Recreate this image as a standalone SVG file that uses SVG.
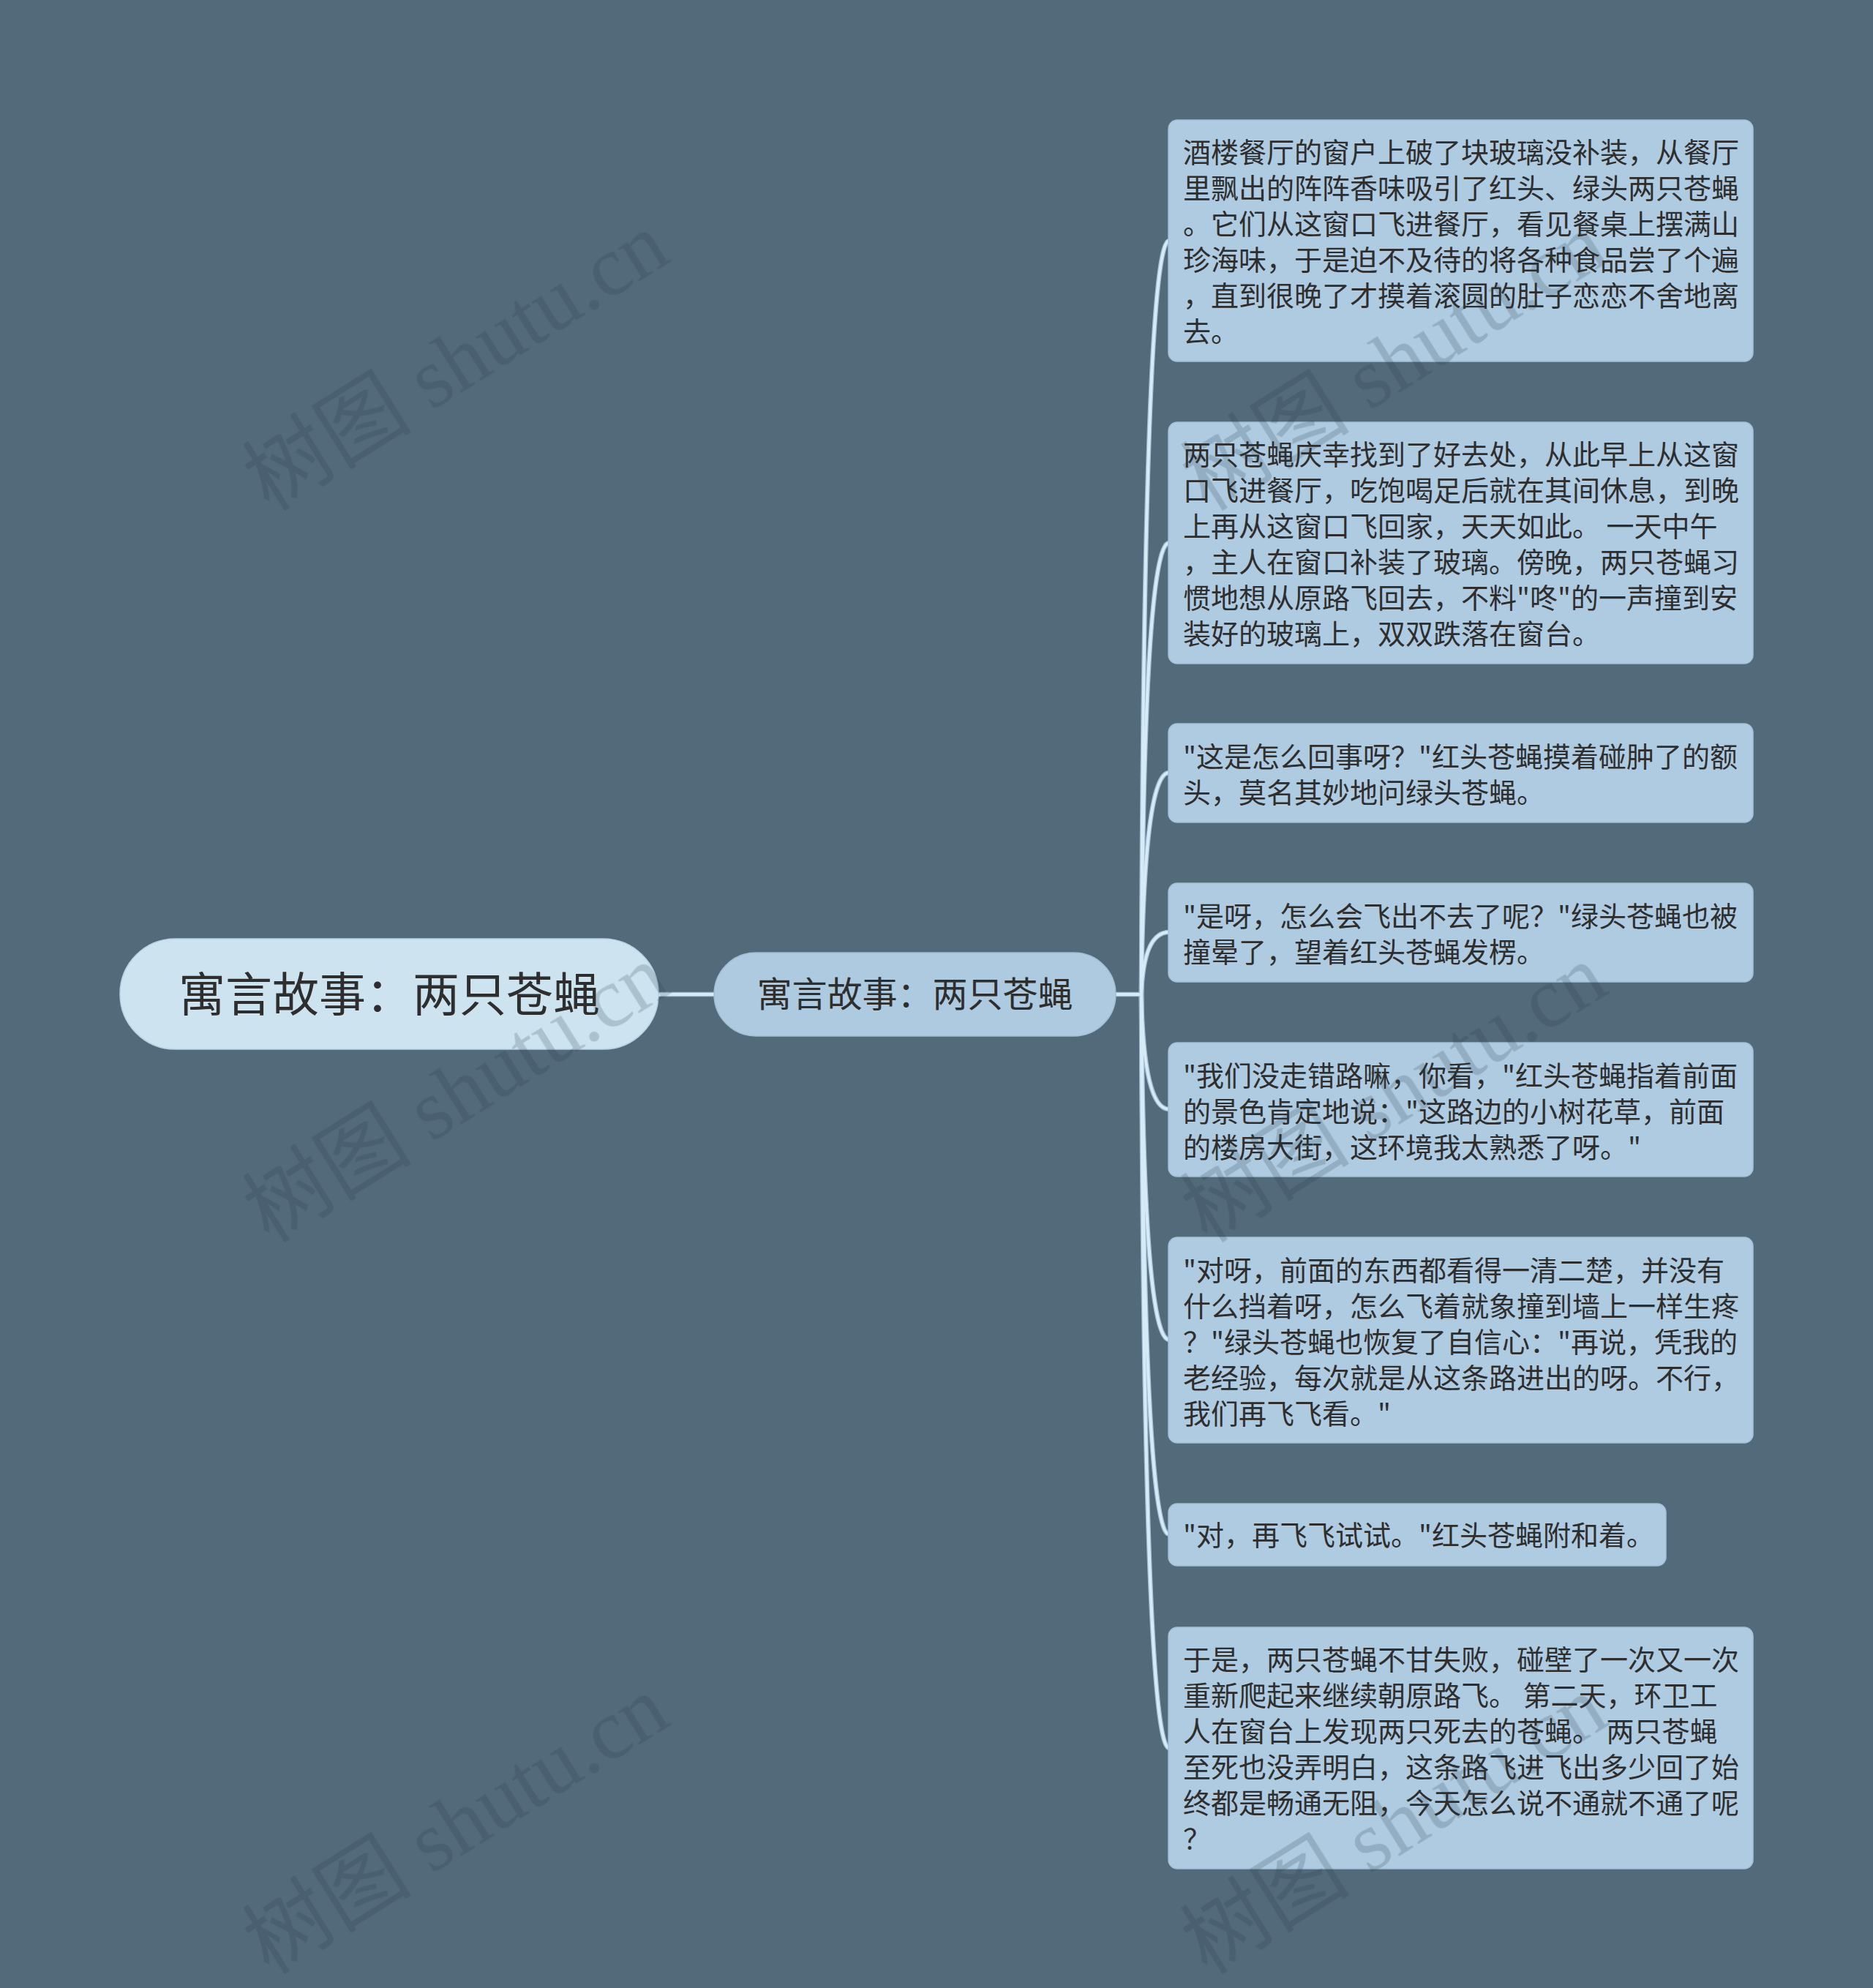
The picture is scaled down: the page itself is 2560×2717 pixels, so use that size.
<svg xmlns="http://www.w3.org/2000/svg" width="2560" height="2717" viewBox="0 0 2560 2717">
<style>
.t{font-family:"Noto Sans CJK SC","Noto Sans",sans-serif;fill:#2e2e2e}
.leaf rect{fill:#aecbe1;stroke:#a2c0d6;stroke-width:1.5}
.leaf text{font-size:38px}
.c-under{fill:none;stroke:#9fbcd1;stroke-width:6.5}
.c-top{fill:none;stroke:#d6ebf6;stroke-width:4}
.wm{font-family:"Liberation Serif","Noto Sans CJK SC",serif;font-size:116px;fill:#2b3a46;opacity:0.2}
</style>
<rect width="2560" height="2717" fill="#536a7a"/>

<g id="connectors">
  <g class="c-under">
    <path d="M900 1359 L976 1359"/>
    <path d="M1525 1359 L1560 1359"/>
    <path d="M1560 1359 Q1563 329 1598 329"/>
    <path d="M1560 1359 Q1563 742 1598 742"/>
    <path d="M1560 1359 Q1563 1056 1598 1056"/>
    <path d="M1560 1359 Q1563 1274 1598 1274"/>
    <path d="M1560 1359 Q1563 1516 1598 1516"/>
    <path d="M1560 1359 Q1563 1831 1598 1831"/>
    <path d="M1560 1359 Q1563 2097 1598 2097"/>
    <path d="M1560 1359 Q1563 2389 1598 2389"/>
  </g>
  <g class="c-top">
    <path d="M900 1359 L976 1359"/>
    <path d="M1525 1359 L1560 1359"/>
    <path d="M1560 1359 Q1563 329 1598 329"/>
    <path d="M1560 1359 Q1563 742 1598 742"/>
    <path d="M1560 1359 Q1563 1056 1598 1056"/>
    <path d="M1560 1359 Q1563 1274 1598 1274"/>
    <path d="M1560 1359 Q1563 1516 1598 1516"/>
    <path d="M1560 1359 Q1563 1831 1598 1831"/>
    <path d="M1560 1359 Q1563 2097 1598 2097"/>
    <path d="M1560 1359 Q1563 2389 1598 2389"/>
  </g>
</g>

<g id="root">
  <rect x="164" y="1283" width="736" height="151" rx="75.5" fill="#cde4f0" stroke="#b8d3e3" stroke-width="1.5"/>
  <text class="t" x="532" y="1382" font-size="64" text-anchor="middle">寓言故事：两只苍蝇</text>
</g>

<g id="main">
  <rect x="976" y="1302" width="549" height="114" rx="57" fill="#adcae0" stroke="#a0bed4" stroke-width="1.5"/>
  <text class="t" x="1250.5" y="1376" font-size="48" text-anchor="middle">寓言故事：两只苍蝇</text>
</g>

<g id="leaf1" class="leaf">
  <rect x="1597" y="164" width="799" height="330" rx="12"/>
  <text class="t">
    <tspan x="1617" y="222">酒楼餐厅的窗户上破了块玻璃没补装，从餐厅</tspan>
    <tspan x="1617" y="271">里飘出的阵阵香味吸引了红头、绿头两只苍蝇</tspan>
    <tspan x="1617" y="320">。它们从这窗口飞进餐厅，看见餐桌上摆满山</tspan>
    <tspan x="1617" y="369">珍海味，于是迫不及待的将各种食品尝了个遍</tspan>
    <tspan x="1617" y="418">，直到很晚了才摸着滚圆的肚子恋恋不舍地离</tspan>
    <tspan x="1617" y="467">去。</tspan>
  </text>
</g>

<g id="leaf2" class="leaf">
  <rect x="1597" y="577" width="799" height="330" rx="12"/>
  <text class="t">
    <tspan x="1617" y="635">两只苍蝇庆幸找到了好去处，从此早上从这窗</tspan>
    <tspan x="1617" y="684">口飞进餐厅，吃饱喝足后就在其间休息，到晚</tspan>
    <tspan x="1617" y="733">上再从这窗口飞回家，天天如此。 一天中午</tspan>
    <tspan x="1617" y="782">，主人在窗口补装了玻璃。傍晚，两只苍蝇习</tspan>
    <tspan x="1617" y="831">惯地想从原路飞回去，不料"咚"的一声撞到安</tspan>
    <tspan x="1617" y="880">装好的玻璃上，双双跌落在窗台。</tspan>
  </text>
</g>

<g id="leaf3" class="leaf">
  <rect x="1597" y="989" width="799" height="135" rx="12"/>
  <text class="t">
    <tspan x="1617" y="1048">"这是怎么回事呀？"红头苍蝇摸着碰肿了的额</tspan>
    <tspan x="1617" y="1097">头，莫名其妙地问绿头苍蝇。</tspan>
  </text>
</g>

<g id="leaf4" class="leaf">
  <rect x="1597" y="1207" width="799" height="135" rx="12"/>
  <text class="t">
    <tspan x="1617" y="1266">"是呀，怎么会飞出不去了呢？"绿头苍蝇也被</tspan>
    <tspan x="1617" y="1315">撞晕了，望着红头苍蝇发楞。</tspan>
  </text>
</g>

<g id="leaf5" class="leaf">
  <rect x="1597" y="1425" width="799" height="183" rx="12"/>
  <text class="t">
    <tspan x="1617" y="1484">"我们没走错路嘛，你看，"红头苍蝇指着前面</tspan>
    <tspan x="1617" y="1533">的景色肯定地说："这路边的小树花草，前面</tspan>
    <tspan x="1617" y="1582">的楼房大街，这环境我太熟悉了呀。"</tspan>
  </text>
</g>

<g id="leaf6" class="leaf">
  <rect x="1597" y="1691" width="799" height="281" rx="12"/>
  <text class="t">
    <tspan x="1617" y="1750">"对呀，前面的东西都看得一清二楚，并没有</tspan>
    <tspan x="1617" y="1799">什么挡着呀，怎么飞着就象撞到墙上一样生疼</tspan>
    <tspan x="1617" y="1848">？"绿头苍蝇也恢复了自信心："再说，凭我的</tspan>
    <tspan x="1617" y="1897">老经验，每次就是从这条路进出的呀。不行，</tspan>
    <tspan x="1617" y="1946">我们再飞飞看。"</tspan>
  </text>
</g>

<g id="leaf7" class="leaf">
  <rect x="1597" y="2055" width="680" height="85" rx="12"/>
  <text class="t">
    <tspan x="1617" y="2112">"对，再飞飞试试。"红头苍蝇附和着。</tspan>
  </text>
</g>

<g id="leaf8" class="leaf">
  <rect x="1597" y="2224" width="799" height="330" rx="12"/>
  <text class="t">
    <tspan x="1617" y="2282">于是，两只苍蝇不甘失败，碰壁了一次又一次</tspan>
    <tspan x="1617" y="2331">重新爬起来继续朝原路飞。 第二天，环卫工</tspan>
    <tspan x="1617" y="2380">人在窗台上发现两只死去的苍蝇。 两只苍蝇</tspan>
    <tspan x="1617" y="2429">至死也没弄明白，这条路飞进飞出多少回了始</tspan>
    <tspan x="1617" y="2478">终都是畅通无阻，今天怎么说不通就不通了呢</tspan>
    <tspan x="1617" y="2527">？</tspan>
  </text>
</g>

<g id="watermarks" class="wm">
  <text transform="translate(368 700) rotate(-32)">树图 shutu.cn</text>
  <text transform="translate(368 1700) rotate(-32)">树图 shutu.cn</text>
  <text transform="translate(368 2700) rotate(-32)">树图 shutu.cn</text>
  <text transform="translate(1650 700) rotate(-32)">树图 shutu.cn</text>
  <text transform="translate(1650 1700) rotate(-32)">树图 shutu.cn</text>
  <text transform="translate(1650 2700) rotate(-32)">树图 shutu.cn</text>
</g>
</svg>
